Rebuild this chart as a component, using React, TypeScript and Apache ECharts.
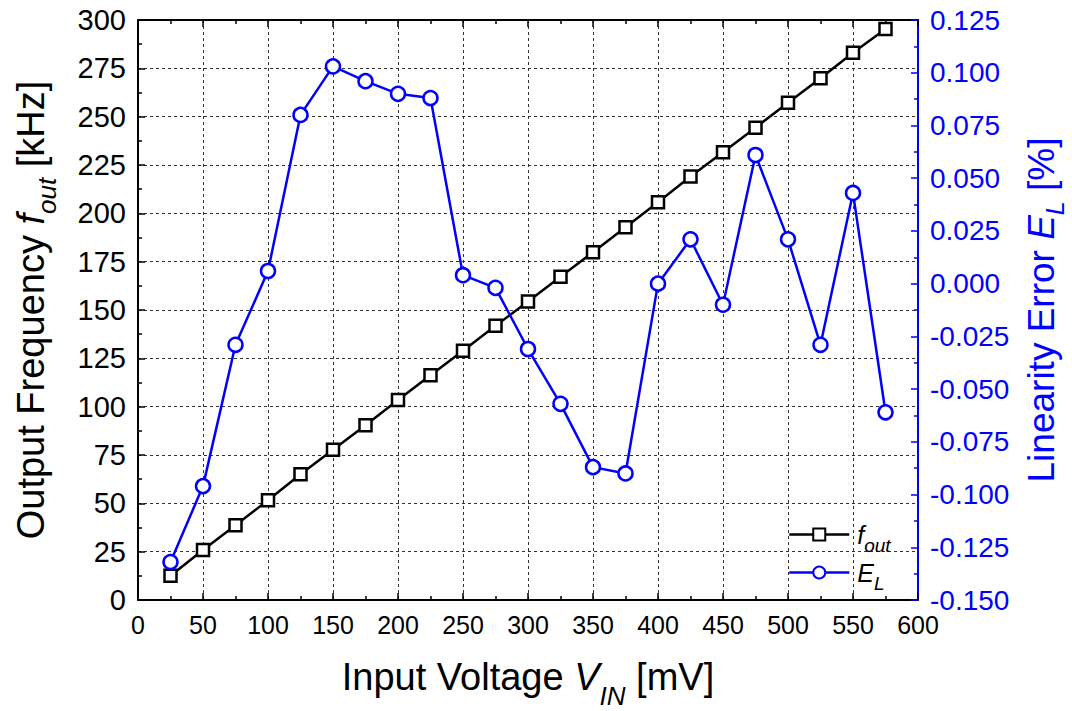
import React, { useEffect, useRef } from 'react';
import * as echarts from 'echarts';

const voltages = [25, 50, 75, 100, 125, 150, 175, 200, 225, 250, 275, 300, 325, 350, 375, 400, 425, 450, 475, 500, 525, 550, 575];
const fout = [12.5, 25.9, 38.7, 51.6, 65.0, 77.7, 90.4, 103.4, 116.3, 128.9, 141.8, 154.4, 167.2, 179.9, 192.8, 205.7, 219.0, 231.6, 244.3, 257.2, 269.9, 283.1, 295.3];
const linErr = [-0.132, -0.096, -0.029, 0.006, 0.080, 0.103, 0.096, 0.090, 0.088, 0.004, -0.002, -0.031, -0.057, -0.087, -0.090, 0.000, 0.021, -0.010, 0.061, 0.021, -0.029, 0.043, -0.061];

export default function App() {
  const ref = useRef<HTMLDivElement>(null);
  useEffect(() => {
    const chart = echarts.init(ref.current!, null, { renderer: 'svg' });
    const font = '"Liberation Sans", Arial, sans-serif';
    const blue = '#0000ff';
    const black = '#000000';
    const dashed = { show: true, lineStyle: { type: [3, 3] as any, color: '#333333', width: 1 } };

    const richFor = (color: string, fam: string, size: number, sub: number, pad: number) => ({
      n: { fontFamily: fam, fontSize: size, color },
      i: { fontFamily: fam, fontSize: size, color, fontStyle: 'italic' },
      s: { fontFamily: fam, fontSize: sub, color, fontStyle: 'italic', padding: [pad, 0, 0, 0] },
    });

    const option: any = {
      animation: false,
      backgroundColor: '#ffffff',
      grid: { left: 138, right: 154, top: 20, bottom: 111, containLabel: false, outerBoundsMode: 'none' },
      legend: {
        orient: 'vertical',
        left: 788,
        top: 522,
        padding: 0,
        itemWidth: 60,
        itemHeight: 15,
        itemGap: 5,
        data: ['fout', 'EL'],
        lineStyle: { width: 2.5 },
        formatter: (name: string) => (name === 'fout' ? '{i|f}{s|out}' : '{i|E}{s|L}'),
        textStyle: {
          color: black,
          rich: {
            i: { fontFamily: font, fontSize: 25, fontStyle: 'italic', color: black, padding: [0, 0, 0, 3] },
            s: { fontFamily: font, fontSize: 19, fontStyle: 'italic', color: black, padding: [22, 0, 0, 0] },
          },
        },
      },
      xAxis: [
        {
          type: 'value',
          position: 'bottom',
          min: 0,
          max: 600,
          interval: 50,
          name: '{n|Input Voltage }{i|V}{s|IN}{n| [mV]}',
          nameLocation: 'middle',
          nameGap: 45,
          nameTextStyle: { rich: richFor(black, font, 38, 26, 38) },
          axisLine: { show: true, onZero: false, lineStyle: { color: black, width: 2 } },
          axisTick: { show: true, inside: true, length: 7, lineStyle: { color: black, width: 1.5 } },
          minorTick: { show: true, splitNumber: 2, length: 4, lineStyle: { color: black, width: 1.5 } },
          axisLabel: { color: black, fontFamily: font, fontSize: 25, margin: 12 },
          splitLine: dashed,
        },
        {
          type: 'value',
          position: 'top',
          min: 0,
          max: 600,
          interval: 50,
          axisLine: { show: true, onZero: false, lineStyle: { color: black, width: 2 } },
          axisTick: { show: true, inside: true, length: 7, lineStyle: { color: black, width: 1.5 } },
          minorTick: { show: true, splitNumber: 2, length: 4, lineStyle: { color: black, width: 1.5 } },
          axisLabel: { show: false },
          splitLine: { show: false },
        },
      ],
      yAxis: [
        {
          type: 'value',
          position: 'left',
          min: 0,
          max: 300,
          interval: 25,
          name: '{n|Output Frequency }{i|f}{s|out}{n| [kHz]}',
          nameLocation: 'middle',
          nameRotate: 90,
          nameGap: 78,
          nameTextStyle: { rich: richFor(black, font, 38, 26, 32) },
          axisLine: { show: true, onZero: false, lineStyle: { color: black, width: 2 } },
          axisTick: { show: true, inside: true, length: 7, lineStyle: { color: black, width: 1.5 } },
          minorTick: { show: true, splitNumber: 2, length: 4, lineStyle: { color: black, width: 1.5 } },
          axisLabel: { color: black, fontFamily: font, fontSize: 29, margin: 12 },
          splitLine: dashed,
        },
        {
          type: 'value',
          position: 'right',
          min: -0.15,
          max: 0.125,
          interval: 0.025,
          name: '{n|Linearity Error }{i|E}{s|L}{n| [%]}',
          nameLocation: 'middle',
          nameRotate: 90,
          nameGap: 98,
          nameTextStyle: { rich: richFor(blue, font, 37, 25, 26) },
          axisLine: { show: true, onZero: false, lineStyle: { color: blue, width: 2 } },
          axisTick: { show: true, inside: true, length: 7, lineStyle: { color: blue, width: 1.5 } },
          minorTick: { show: true, splitNumber: 2, length: 4, lineStyle: { color: blue, width: 1.5 } },
          axisLabel: {
            color: blue,
            fontFamily: font,
            fontSize: 28,
            margin: 12,
            formatter: (v: number) => (Math.abs(v) < 1e-9 ? 0 : v).toFixed(3),
          },
          splitLine: { show: false },
        },
      ],
      series: [
        {
          name: 'fout',
          type: 'line',
          xAxisIndex: 0,
          yAxisIndex: 0,
          data: voltages.map((v, i) => [v, fout[i]]),
          symbol: 'rect',
          symbolSize: 12,
          lineStyle: { color: black, width: 2.5 },
          itemStyle: { color: '#ffffff', borderColor: black, borderWidth: 2.5 },
          z: 3,
        },
        {
          name: 'EL',
          type: 'line',
          xAxisIndex: 0,
          yAxisIndex: 1,
          data: voltages.map((v, i) => [v, linErr[i]]),
          symbol: 'circle',
          symbolSize: 14,
          lineStyle: { color: blue, width: 2.5 },
          itemStyle: { color: '#ffffff', borderColor: blue, borderWidth: 2.5 },
          z: 4,
        },
      ],
    };
    chart.setOption(option);
    return () => chart.dispose();
  }, []);
  return <div ref={ref} style={{ position: 'absolute', left: 0, top: 0, width: 1072, height: 711 }} />;
}
